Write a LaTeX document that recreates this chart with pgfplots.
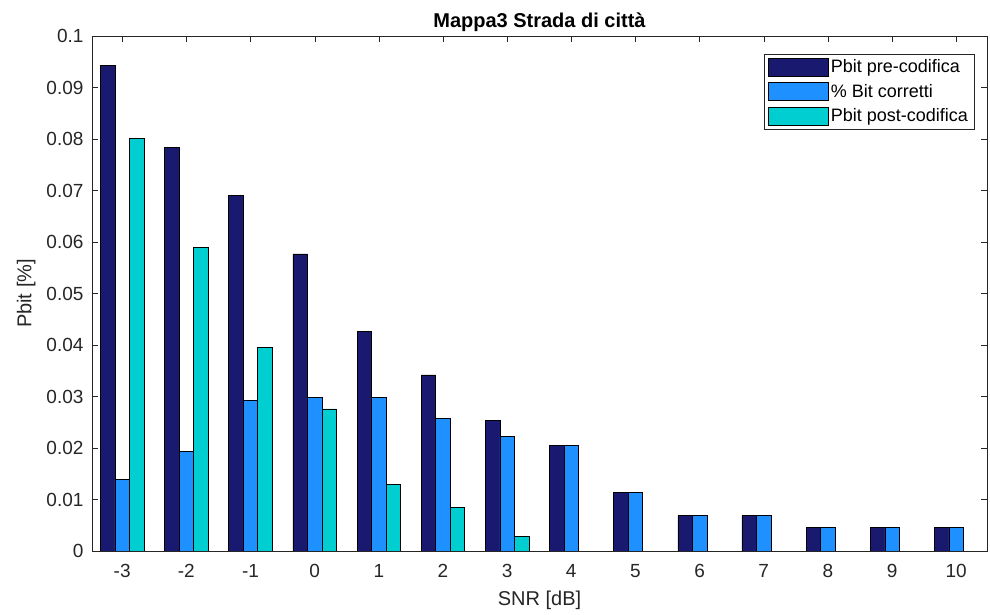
\documentclass[border=0pt]{standalone}
\usepackage{pgfplots}
\pgfplotsset{compat=1.18}
\usepackage{fontspec}
\setmainfont{Liberation Sans}
\definecolor{c1}{RGB}{25,25,112}
\definecolor{c2}{RGB}{30,144,255}
\definecolor{c3}{RGB}{0,206,209}
\definecolor{axc}{RGB}{38,38,38}
\begin{document}
\begin{tikzpicture}
\begin{axis}[
  scale only axis, width=895pt, height=515pt,
  xmin=-3.47, xmax=10.48, ymin=0, ymax=0.1,
  ybar=0pt, bar width=0.226,
  xtick={-3,...,10}, ytick={0,0.01,...,0.1},
  yticklabels={0,0.01,0.02,0.03,0.04,0.05,0.06,0.07,0.08,0.09,0.1},
  tick align=inside, tick pos=both, major tick length=6pt,
  axis line style={axc}, tick style={axc},
  every tick label/.append style={font=\fontsize{19}{21}\selectfont, text=axc},
  xticklabel style={yshift=-10pt},
  yticklabel style={xshift=-5pt},
  /pgf/number format/assume math mode=true,
  title={\textbf{Mappa3 Strada di città}},
  title style={font=\fontsize{20}{22}\selectfont, yshift=-5pt},
  xlabel={SNR [dB]}, ylabel={Pbit [\%]},
  label style={font=\fontsize{20}{22}\selectfont, text=axc},
  xlabel style={yshift=-6pt},
  ylabel style={yshift=4pt},
  legend style={at={(0.9855,0.966)}, anchor=north east, draw=axc, font=\fontsize{18}{20}\selectfont, inner xsep=4pt, inner ysep=4pt, row sep=6pt, cells={anchor=west, inner ysep=2pt, inner xsep=3pt}},
  legend image code/.code={\draw[#1,draw=black] (0pt,-9pt) rectangle (60pt,9pt);},
  every axis plot/.append style={draw=black, line width=0.6pt},
]
\addplot[fill=c1] coordinates {(-3,0.0943) (-2,0.0783) (-1,0.0690) (0,0.0577) (1,0.0427) (2,0.0342) (3,0.0253) (4,0.02045) (5,0.01133) (6,0.00686) (7,0.00686) (8,0.00453) (9,0.00453) (10,0.00453)};
\addplot[fill=c2] coordinates {(-3,0.0139) (-2,0.0193) (-1,0.0293) (0,0.0298) (1,0.0298) (2,0.0258) (3,0.0223) (4,0.02045) (5,0.01133) (6,0.00686) (7,0.00686) (8,0.00453) (9,0.00453) (10,0.00453)};
\addplot[fill=c3] coordinates {(-3,0.0801) (-2,0.0590) (-1,0.0396) (0,0.0276) (1,0.0130) (2,0.0085) (3,0.0029)};
\legend{Pbit pre-codifica, \% Bit corretti, Pbit post-codifica}
\end{axis}
\useasboundingbox ([shift={(-92pt,-64pt)}]current axis.south west) rectangle ([shift={(3pt,36pt)}]current axis.north east);
\end{tikzpicture}
\end{document}
